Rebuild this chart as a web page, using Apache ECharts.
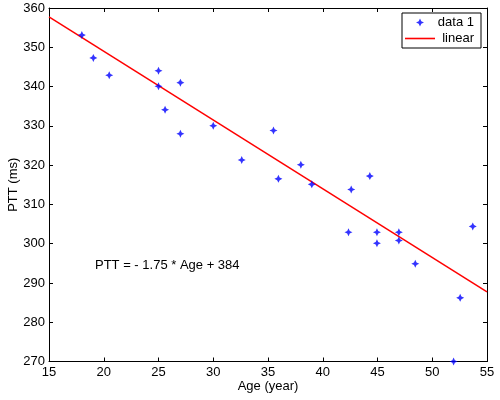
<!DOCTYPE html>
<html>
<head>
<meta charset="utf-8">
<script src="https://cdn.jsdelivr.net/npm/echarts@6/dist/echarts.min.js"></script>
<style>html,body{margin:0;padding:0;background:#fff;}#c{width:500px;height:400px;}</style>
</head>
<body>
<div id="c"></div>
<script>
var ages = [18, 19.05, 20.5, 25, 25, 25.6, 27, 27, 30, 32.6, 35.5, 35.95, 38, 39, 42.6, 44.3, 42.35, 44.95, 44.95, 46.95, 46.95, 48.45, 52.55, 51.95, 53.7];
var ptt  = [353.1, 347.3, 342.9, 344, 340.1, 334.1, 341, 328, 330, 321.3, 328.8, 316.5, 320.1, 315.1, 313.8, 317.2, 302.9, 302.9, 300.1, 302.9, 300.8, 294.9, 286.2, 270, 304.4];
var slope = -1.75;
var intercept = 384;
var fitAges = [15, 55];
var xTicks = [15, 20, 25, 30, 35, 40, 45, 50, 55];
var yTicks = [270, 280, 290, 300, 310, 320, 330, 340, 350, 360];

var scatterData = ages.map(function (a, i) { return [a, ptt[i]]; });
var lineData = fitAges.map(function (a) { return [a, slope * a + intercept]; });
var star = 'path://M0,-10 L3.2,-3.2 L10,0 L3.2,3.2 L0,10 L-3.2,3.2 L-10,0 L-3.2,-3.2 Z';
var lineIcon = 'path://M0,0 L30,0 L30,1.6 L0,1.6 Z';
var font = 'Liberation Sans, Arial, sans-serif';

var chart = echarts.init(document.getElementById('c'), null, {renderer: 'canvas'});
var axisCommon = {
  axisLine: {show: true, lineStyle: {color: '#000', width: 1}},
  axisTick: {show: true, inside: true, length: 4, lineStyle: {color: '#000'}},
  splitLine: {show: false}
};
chart.setOption({
  animation: false,
  backgroundColor: '#fff',
  textStyle: {fontFamily: font},
  grid: {left: 49, top: 8, right: 13, bottom: 38.5, containLabel: false, outerBoundsMode: 'none'},
  xAxis: [
    Object.assign({
      type: 'value', min: 15, max: 55, interval: 5, position: 'bottom',
      name: 'Age (year)', nameLocation: 'middle', nameGap: 18, nameMoveOverlap: false,
      nameTextStyle: {color: '#000', fontSize: 13, fontFamily: font},
      axisLabel: {color: '#000', fontSize: 13, margin: 4, fontFamily: font,
        formatter: function (v) { return xTicks.indexOf(v) >= 0 ? String(v) : ''; }}
    }, axisCommon),
    Object.assign({
      type: 'value', min: 15, max: 55, interval: 5, position: 'top',
      axisLabel: {show: false}
    }, axisCommon)
  ],
  yAxis: [
    Object.assign({
      type: 'value', min: 270, max: 360, interval: 10, position: 'left',
      name: 'PTT (ms)', nameLocation: 'middle', nameGap: 29, nameRotate: 90, nameMoveOverlap: false,
      nameTextStyle: {color: '#000', fontSize: 13, fontFamily: font},
      axisLabel: {color: '#000', fontSize: 13, margin: 4, fontFamily: font,
        formatter: function (v) { return yTicks.indexOf(v) >= 0 ? String(v) : ''; }}
    }, axisCommon),
    Object.assign({
      type: 'value', min: 270, max: 360, interval: 10, position: 'right',
      axisLabel: {show: false}
    }, axisCommon)
  ],
  legend: {
    orient: 'vertical', left: 402, top: 13,
    backgroundColor: '#fff', borderColor: '#000', borderWidth: 1, borderRadius: 0,
    padding: [3, 7, 3, 3], itemGap: 3, itemWidth: 30, itemHeight: 8,
    formatter: function (name) { return '{a|' + name + '}'; },
    textStyle: {color: '#000', fontSize: 13, fontFamily: font,
      rich: {a: {width: 34, align: 'right', fontSize: 13, fontFamily: font, color: '#000'}}},
    data: [
      {name: 'data 1', icon: star, itemStyle: {color: '#0000ff'}},
      {name: 'linear', icon: lineIcon, itemStyle: {color: '#ff0000'}}
    ]
  },
  graphic: [{
    type: 'text', left: 95, top: 259,
    style: {text: 'PTT = - 1.75 * Age + 384', fill: '#000', fontSize: 13, fontFamily: font}
  }],
  series: [
    {
      name: 'linear', type: 'line', data: lineData, symbol: 'none', showSymbol: false,
      lineStyle: {color: '#ff0000', width: 1.5}, itemStyle: {color: '#ff0000'}, z: 2
    },
    {
      name: 'data 1', type: 'scatter', data: scatterData, symbol: star, symbolSize: 8,
      itemStyle: {color: '#0000ff'}, z: 3, clip: false
    }
  ]
});
</script>
</body>
</html>
